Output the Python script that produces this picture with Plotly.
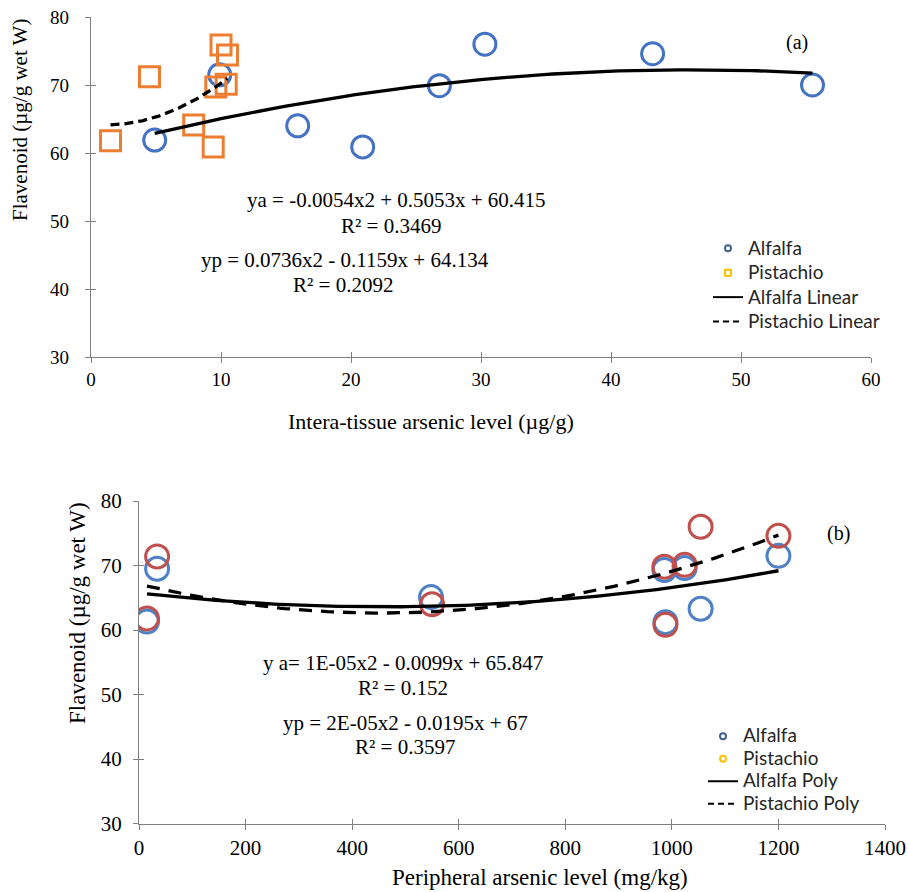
import numpy as np
import plotly.graph_objects as go

# ---------------- data ----------------
# (a) intra-tissue arsenic (µg/g) vs flavonoid
a_alfalfa_x = [4.9, 9.9, 15.9, 20.9, 26.8, 30.3, 43.2, 55.5]
a_alfalfa_y = [61.9, 71.5, 64.0, 60.9, 69.9, 76.0, 74.6, 70.0]
a_pistachio_x = [1.5, 4.5, 7.9, 9.4, 10.0, 10.5, 10.4, 9.6]
a_pistachio_y = [61.8, 71.2, 64.1, 60.9, 75.9, 74.4, 70.1, 69.7]

# (b) peripheral arsenic (mg/kg) vs flavonoid
b_alfalfa_x = [15, 34, 548, 986, 988, 1024, 1054, 1200]
b_alfalfa_y = [61.3, 69.5, 65.1, 69.3, 61.2, 69.6, 63.3, 71.5]
b_pistachio_x = [15, 34, 550, 986, 988, 1024, 1054, 1200]
b_pistachio_y = [61.8, 71.4, 64.0, 69.8, 60.8, 70.1, 76.0, 74.6]

a_legend_names = ["Alfalfa", "Pistachio", "Alfalfa Linear", "Pistachio Linear"]
b_legend_names = ["Alfalfa", "Pistachio", "Alfalfa Poly", "Pistachio Poly"]

a_eq_texts = ["ya = -0.0054x2 + 0.5053x + 60.415", "R² = 0.3469",
              "yp = 0.0736x2 - 0.1159x + 64.134", "R² = 0.2092"]
b_eq_texts = ["y a= 1E-05x2 - 0.0099x + 65.847", "R² = 0.152",
              "yp = 2E-05x2 - 0.0195x + 67", "R² = 0.3597"]

W, H = 908, 892
SERIF = "Liberation Serif, Times New Roman, serif"
SANS = "Lato, Carlito, Calibri, sans-serif"


def px(v):
    return v / W


def py(v):
    return 1 - v / H


def trend(xs, ys):
    c = np.polyfit(xs, ys, 2)
    xx = np.linspace(min(xs), max(xs), 120)
    return xx, np.polyval(c, xx)


def big(name, size):
    return f'<span style="font-size:{size}px">{name}</span>'


fig = go.Figure()

# ---- (a) markers
fig.add_trace(go.Scatter(x=a_alfalfa_x, y=a_alfalfa_y, mode="markers", showlegend=False,
                         marker=dict(symbol="circle", size=22, color="rgba(0,0,0,0)",
                                     line=dict(width=3, color="#4472C4")),
                         xaxis="x", yaxis="y"))
fig.add_trace(go.Scatter(x=a_pistachio_x, y=a_pistachio_y, mode="markers", showlegend=False,
                         marker=dict(symbol="square", size=20, color="rgba(0,0,0,0)",
                                     line=dict(width=3, color="#ED7D31")),
                         xaxis="x", yaxis="y"))
tx, ty = trend(a_alfalfa_x, a_alfalfa_y)
fig.add_trace(go.Scatter(x=tx, y=ty, mode="lines", showlegend=False,
                         line=dict(color="black", width=3.3), xaxis="x", yaxis="y"))
tx, ty = trend(a_pistachio_x, a_pistachio_y)
fig.add_trace(go.Scatter(x=tx, y=ty, mode="lines", showlegend=False,
                         line=dict(color="black", width=3.3, dash="9px,5px"), xaxis="x", yaxis="y"))

# ---- (b) markers
fig.add_trace(go.Scatter(x=b_alfalfa_x, y=b_alfalfa_y, mode="markers", showlegend=False,
                         marker=dict(symbol="circle", size=23, color="rgba(0,0,0,0)",
                                     line=dict(width=3, color="#4F81C7")),
                         xaxis="x2", yaxis="y2"))
fig.add_trace(go.Scatter(x=b_pistachio_x, y=b_pistachio_y, mode="markers", showlegend=False,
                         marker=dict(symbol="circle", size=23, color="rgba(0,0,0,0)",
                                     line=dict(width=3, color="#C0504D")),
                         xaxis="x2", yaxis="y2"))
tx, ty = trend(b_alfalfa_x, b_alfalfa_y)
fig.add_trace(go.Scatter(x=tx, y=ty, mode="lines", showlegend=False,
                         line=dict(color="black", width=3.3), xaxis="x2", yaxis="y2"))
tx, ty = trend(b_pistachio_x, b_pistachio_y)
fig.add_trace(go.Scatter(x=tx, y=ty, mode="lines", showlegend=False,
                         line=dict(color="black", width=3.3, dash="13px,9px"), xaxis="x2", yaxis="y2"))

# ---- legend-only entries
leg_blue = "#41618F"
leg_gold = "#FFC000"
for leg, names in (("legend", a_legend_names), ("legend2", b_legend_names)):
    sym2 = "square" if leg == "legend" else "circle"
    xa, ya = ("x", "y") if leg == "legend" else ("x2", "y2")
    fig.add_trace(go.Scatter(x=[None], y=[None], mode="markers", name=big(names[0], 19), legend=leg,
                             marker=dict(symbol="circle", size=6, color="rgba(0,0,0,0)",
                                         line=dict(width=2, color=leg_blue)), xaxis=xa, yaxis=ya))
    fig.add_trace(go.Scatter(x=[None], y=[None], mode="markers", name=big(names[1], 19), legend=leg,
                             marker=dict(symbol=sym2, size=6, color="rgba(0,0,0,0)",
                                         line=dict(width=2, color=leg_gold)), xaxis=xa, yaxis=ya))
    fig.add_trace(go.Scatter(x=[None], y=[None], mode="lines", name=big(names[2], 19), legend=leg,
                             line=dict(color="black", width=2), xaxis=xa, yaxis=ya))
    fig.add_trace(go.Scatter(x=[None], y=[None], mode="lines", name=big(names[3], 19), legend=leg,
                             line=dict(color="black", width=2, dash="6px,4px"), xaxis=xa, yaxis=ya))

# ---- dummy traces for the inner half of crossing ticks
fig.add_trace(go.Scatter(x=[None], y=[None], showlegend=False, hoverinfo="skip", xaxis="x3", yaxis="y3"))
fig.add_trace(go.Scatter(x=[None], y=[None], showlegend=False, hoverinfo="skip", xaxis="x4", yaxis="y4"))

AX = "#7F7F7F"
common = dict(showgrid=False, zeroline=False, showline=True, linecolor=AX, linewidth=1.2,
              ticks="outside", ticklen=5, tickcolor=AX, tickwidth=1.2, automargin=False,
              tickfont=dict(family=SERIF, size=19, color="black"))
inner = dict(showgrid=False, zeroline=False, showline=False, ticks="inside", ticklen=5,
             tickcolor=AX, tickwidth=1.2, showticklabels=False, automargin=False)

xa_dom = [px(91), px(871)]
ya_dom = [py(357), py(17)]
xb_dom = [px(139), px(885)]
yb_dom = [py(823.5), py(501)]

fig.update_layout(
    template="none",
    width=W, height=H, margin=dict(l=0, r=0, t=0, b=0, pad=0, autoexpand=False),
    paper_bgcolor="white", plot_bgcolor="white",
    xaxis=dict(domain=xa_dom, range=[0, 60], dtick=10, anchor="y", ticklabelstandoff=0, **common),
    yaxis=dict(domain=ya_dom, range=[30, 80], dtick=10, anchor="x", ticklabelstandoff=12, **common),
    xaxis2=dict(domain=xb_dom, range=[0, 1400], dtick=200, anchor="y2", ticklabelstandoff=0,
                **{**common, "tickfont": dict(family=SERIF, size=21, color="black")}),
    yaxis2=dict(domain=yb_dom, range=[30, 80], dtick=10, anchor="x2", ticklabelstandoff=7,
                **{**common, "tickfont": dict(family=SERIF, size=21, color="black")}),
    xaxis3=dict(overlaying="x", anchor="y", range=[0, 60], dtick=10, **inner),
    yaxis3=dict(overlaying="y", anchor="x", range=[30, 80], dtick=10, **inner),
    xaxis4=dict(overlaying="x2", anchor="y2", range=[0, 1400], dtick=200, **inner),
    yaxis4=dict(overlaying="y2", anchor="x2", range=[30, 80], dtick=10, **inner),
    legend=dict(x=px(708), y=py(231), xanchor="left", yanchor="top", bgcolor="rgba(0,0,0,0)",
                font=dict(family=SANS, size=16.5, color="#262626"), tracegroupgap=0),
    legend2=dict(x=px(703), y=py(720), xanchor="left", yanchor="top", bgcolor="rgba(0,0,0,0)",
                 font=dict(family=SANS, size=15, color="#262626"), tracegroupgap=0),
    showlegend=True,
)

ann = []
# axis titles
ann.append(dict(text="Flavenoid (µg/g wet W)", x=px(20), y=py(120), textangle=-90,
                font=dict(family=SERIF, size=21, color="black")))
ann.append(dict(text="Intera-tissue arsenic level (µg/g)", x=px(431), y=py(422),
                font=dict(family=SERIF, size=22, color="black")))
ann.append(dict(text="Flavenoid (µg/g wet W)", x=px(77), y=py(613), textangle=-90,
                font=dict(family=SERIF, size=23, color="black")))
ann.append(dict(text="Peripheral arsenic level (mg/kg)", x=px(540), y=py(877),
                font=dict(family=SERIF, size=23, color="black")))
# panel labels
ann.append(dict(text="(a)", x=px(797), y=py(43), font=dict(family=SERIF, size=20, color="black")))
ann.append(dict(text="(b)", x=px(838), y=py(533), font=dict(family=SERIF, size=20, color="black")))
# equations
for t, (xx, yy) in zip(a_eq_texts, [(396, 200), (391, 226), (345, 260), (343, 285)]):
    ann.append(dict(text=t, x=px(xx), y=py(yy), font=dict(family=SERIF, size=21, color="black")))
for t, (xx, yy) in zip(b_eq_texts, [(403, 663), (403, 688), (405, 723), (405, 747)]):
    ann.append(dict(text=t, x=px(xx), y=py(yy), font=dict(family=SERIF, size=21, color="black")))

for a in ann:
    a.update(xref="paper", yref="paper", showarrow=False, xanchor="center", yanchor="middle")
fig.update_layout(annotations=ann)

fig.write_html("out.html", config={"displayModeBar": False},
               post_script="document.body.style.margin='0px';document.body.style.overflow='hidden';")
